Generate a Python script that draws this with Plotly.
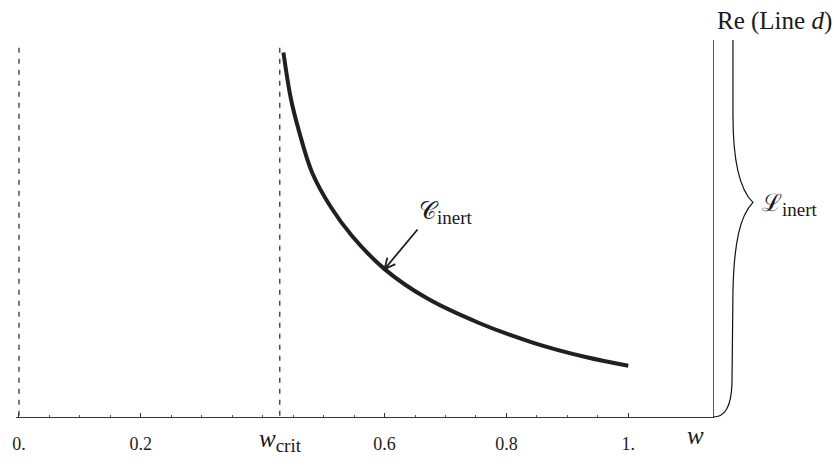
import math
import plotly.graph_objects as go

# ---------------- data ----------------
w_curve = [0.434, 0.446, 0.459, 0.481, 0.512, 0.547, 0.600, 0.669, 0.756, 0.843, 0.930, 1.0]
h_curve = [377, 330, 297, 253, 217, 187, 153, 123, 97, 77, 62, 53]

w_crit = 0.428
dashed_lines_w = [0.0, w_crit]
dashed_top = 382
y_top = 390
w_axis_max = 1.139
w_label_pos = 1.11
arrow_w = 0.6

major_ticks = [0.0, 0.2, 0.6, 0.8, 1.0]
major_labels = ["0.", "0.2", "0.6", "0.8", "1."]
minor_ticks = [0.05, 0.10, 0.15, 0.25, 0.30, 0.35, 0.40, 0.45, 0.50, 0.55,
               0.65, 0.70, 0.75, 0.85, 0.90, 0.95]

# ---------------- layout geometry ----------------
W, H = 834, 466
ML, MR, MT, MB = 15, 121, 40, 36
PW, PH = W - ML - MR, H - MT - MB
x_lo = -0.0049
x_hi = w_axis_max
px_per_x = PW / (x_hi - x_lo)
px_per_y = PH / y_top

def data_to_px(x, y):
    return ML + (x - x_lo) * px_per_x, MT + (y_top - y) * px_per_y

def px_to_data(px, py):
    return x_lo + (px - ML) / px_per_x, y_top - (py - MT) / px_per_y

def px_to_paper(px, py):
    return (px - ML) / PW, (H - MB - py) / PH

SERIF = "Liberation Serif, DejaVu Serif, serif"
INK = "#231f20"

def sub(txt, size=19):
    return (f"<sub><span style='font-family:Liberation Serif,serif;"
            f"font-size:{size}px'>{txt}</span></sub>")

fig = go.Figure()
fig.add_trace(go.Scatter(
    x=w_curve, y=h_curve, mode="lines",
    line=dict(color=INK, width=4, shape="spline", smoothing=1.0),
    hoverinfo="skip", showlegend=False))

shapes = []
for xv in dashed_lines_w:
    shapes.append(dict(type="line", xref="x", yref="y", x0=xv, x1=xv,
                       y0=dashed_top, y1=0,
                       line=dict(color="#333333", width=1.3, dash="5px,6px")))

# arrow pointing at the curve (open V head)
ia = w_curve.index(arrow_w)
tip_px = data_to_px(w_curve[ia], h_curve[ia])
tail_px = (tip_px[0] + 33, tip_px[1] - 41)
dx, dy = tail_px[0] - tip_px[0], tail_px[1] - tip_px[1]
L = math.hypot(dx, dy)
ux, uy = dx / L, dy / L
arms = []
for ang in (0.45, -0.45):
    c, s = math.cos(ang), math.sin(ang)
    arms.append((tip_px[0] + 12 * (ux * c - uy * s), tip_px[1] + 12 * (ux * s + uy * c)))
def P(p):
    x, y = px_to_data(*p)
    return f"{x:.5f},{y:.3f}"
arrow_path = (f"M {P(tail_px)} L {P(tip_px)} M {P(arms[0])} L {P(tip_px)} L {P(arms[1])}")
shapes.append(dict(type="path", xref="x", yref="y", path=arrow_path,
                   line=dict(color=INK, width=1.8)))

# brace (paper coords, drawn outside the plot area)
def Q(px, py):
    x, y = px_to_paper(px, py)
    return f"{x:.5f},{y:.5f}"
brace = (f"M {Q(733,40)} L {Q(733,118)} C {Q(733,165)} {Q(740,195)} {Q(753,208)} "
         f"C {Q(740,222)} {Q(734,250)} {Q(733,300)} L {Q(732,396)} "
         f"C {Q(731,420)} {Q(725,430)} {Q(713,430)}")
shapes.append(dict(type="path", xref="paper", yref="paper", path=brace,
                   line=dict(color="#111111", width=1.2)))

annotations = []
def ann(text, px, py, xanchor, yanchor, size):
    x, y = px_to_paper(px, py)
    annotations.append(dict(text=text, x=x, y=y, xref="paper", yref="paper",
                            xanchor=xanchor, yanchor=yanchor, showarrow=False,
                            font=dict(family=SERIF, size=size, color="#1a1a1a")))

ann("Re (Line <i>d</i>)", 834, 20, "right", "middle", 25)
ann("ℒ" + sub("inert"), 760, 211, "left", "middle", 24)
ann("𝒞" + sub("inert"), 417, 219, "left", "middle", 24)
wx, _ = data_to_px(w_crit, 0)
ann("<i>w</i>" + sub("crit"), wx + 1, 454, "center", "middle", 25)
lx, _ = data_to_px(w_label_pos, 0)
ann("<i>w</i>", lx, 449, "center", "middle", 25)

fig.update_layout(
    width=W, height=H, autosize=False,
    margin=dict(l=ML, r=MR, t=MT, b=MB, pad=0),
    paper_bgcolor="white", plot_bgcolor="white",
    shapes=shapes, annotations=annotations,
    xaxis=dict(range=[x_lo, x_hi], showgrid=False, zeroline=False,
               showline=True, linecolor="#333333", linewidth=1.3,
               ticks="inside", ticklen=4, tickwidth=1, tickcolor="#333333",
               tickvals=major_ticks, ticktext=major_labels,
               tickfont=dict(family=SERIF, size=18, color="#222222"),
               ticklabelstandoff=10,
               minor=dict(tickvals=minor_ticks, ticks="inside", ticklen=2,
                          tickwidth=1, tickcolor="#555555"),
               fixedrange=True),
    yaxis=dict(range=[0, y_top], side="right", showgrid=False, zeroline=False,
               showline=True, linecolor="#555555", linewidth=1.3,
               showticklabels=False, ticks="", fixedrange=True),
    showlegend=False,
)

fig.write_html("out.html", config={"displayModeBar": False})
